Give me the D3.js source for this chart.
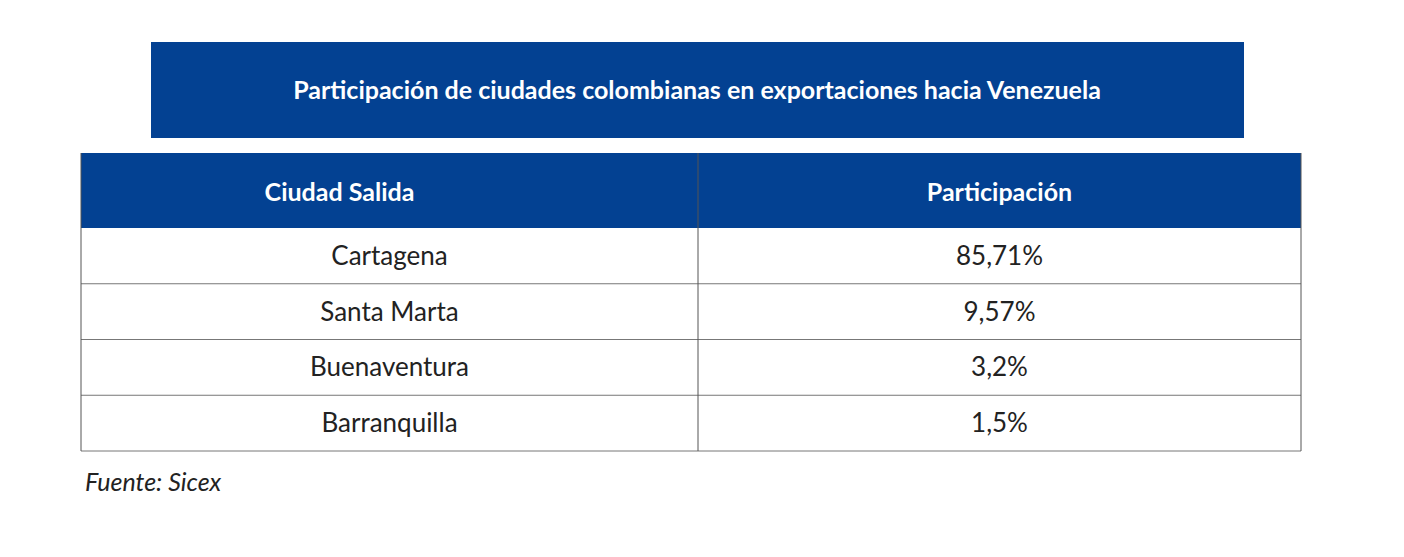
<!DOCTYPE html>
<html><head><meta charset="utf-8">
<script src="https://cdn.jsdelivr.net/npm/d3@7"></script>
<style>body{margin:0;background:#fff}</style>
</head><body>
<svg id="chart" width="1404" height="557"></svg>
<script>
// --- Data ---
const TITLE = "Participación de ciudades colombianas en exportaciones hacia Venezuela";
const HEADERS = ["Ciudad Salida", "Participación"];
const CITIES = ["Cartagena", "Santa Marta", "Buenaventura", "Barranquilla"];
const SHARES = ["85,71%", "9,57%", "3,2%", "1,5%"];
const SOURCE = "Fuente: Sicex";

const BLUE = "#034192";
const FONT = "Lato, 'Open Sans', sans-serif";

const svg = d3.select("#chart");

// title banner
svg.append("rect").attr("x", 151).attr("y", 42).attr("width", 1093).attr("height", 96).attr("fill", BLUE);
svg.append("text").attr("x", 697).attr("y", 99).attr("text-anchor", "middle")
  .attr("fill", "#fff").style("font-family", FONT).style("font-weight", 700).style("font-size", "25px")
  .text(TITLE);

// table scales
const x = d3.scaleBand().domain(HEADERS).range([81, 1301]).paddingInner(0);
const splitX = 698;
const colX = [81, splitX, 1301];
const rowY = d3.scaleBand().domain(CITIES).range([228, 451]);

// header
svg.append("rect").attr("x", 81).attr("y", 153).attr("width", 1220).attr("height", 75).attr("fill", BLUE);
HEADERS.forEach((h, i) => {
  svg.append("text").attr("x", (colX[i] + colX[i + 1]) / 2 - (i === 0 ? 50 : 0)).attr("y", 201)
    .attr("text-anchor", "middle").attr("fill", "#fff")
    .style("font-family", FONT).style("font-weight", 700).style("font-size", "25px").text(h);
});

// rows
const rows = svg.selectAll("g.row").data(CITIES.map((c, i) => [c, SHARES[i]]))
  .join("g").attr("class", "row").attr("transform", d => `translate(0,${rowY(d[0])})`);
rows.append("line").attr("x1", 81).attr("x2", 1301).attr("y1", rowY.bandwidth()).attr("y2", rowY.bandwidth())
  .attr("stroke", "#777").attr("stroke-width", 1);
rows.selectAll("text").data(d => d).join("text")
  .attr("x", (d, i) => (colX[i] + colX[i + 1]) / 2)
  .attr("y", rowY.bandwidth() / 2 + 9).attr("text-anchor", "middle")
  .attr("fill", "#222").style("font-family", FONT).style("font-size", "26px").text(d => d);

// vertical borders
[81, splitX, 1301].forEach(v => {
  svg.append("line").attr("x1", v).attr("x2", v).attr("y1", 153).attr("y2", 451)
    .attr("stroke", "#555").attr("stroke-width", 1);
});

svg.append("text").attr("x", 85).attr("y", 491).attr("fill", "#222")
  .style("font-family", FONT).style("font-style", "italic").style("font-size", "25px").text(SOURCE);
</script>
</body></html>
